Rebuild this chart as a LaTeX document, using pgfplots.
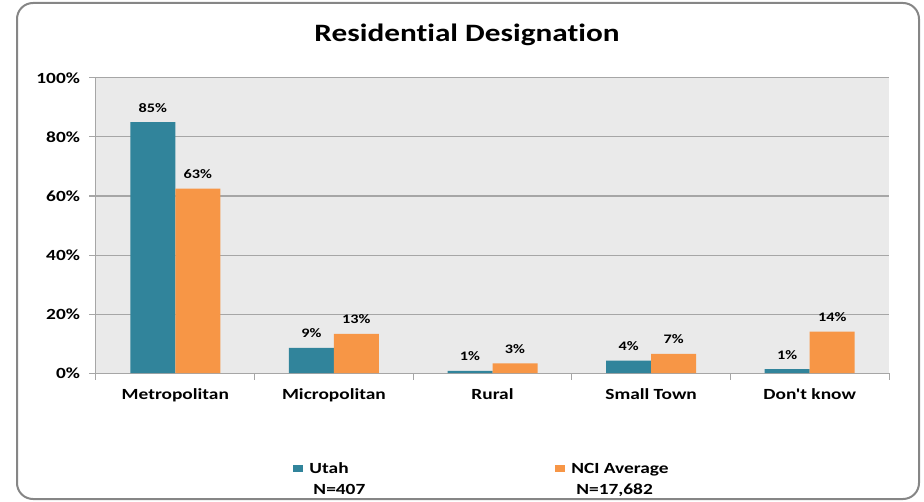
\documentclass[border=0pt]{standalone}
\usepackage{pgfplots}
\usepackage{pgfplotstable}
\pgfplotsset{compat=1.18}
\usepackage{fontspec}
\setmainfont{Carlito}[FakeStretch=1.25, Ligatures={CommonOff,TeXOff}]
\definecolor{utah}{HTML}{31849B}
\definecolor{nci}{HTML}{F79646}
\definecolor{plotbg}{HTML}{EAEAEA}
\definecolor{gridc}{HTML}{A6A6A6}
\definecolor{framec}{HTML}{868686}

\pgfplotstableread{
x y lab
0 85 85
1 8.5 9
2 0.7 1
3 4.2 4
4 1.3 1
}\utahdata
\pgfplotstableread{
x y lab
0 62.5 63
1 13.3 13
2 3.3 3
3 6.5 7
4 14.0 14
}\ncidata

\begin{document}
\begin{tikzpicture}
\useasboundingbox (0pt,0pt) rectangle (924pt,501pt);
\draw[framec, line width=2pt, rounded corners=16pt] (17pt,2pt) rectangle (919pt,498pt);
\node[font=\fontsize{25}{29}\selectfont\bfseries] at (467pt,466pt) {Residential Designation};
\begin{axis}[
  at={(96pt,128pt)}, anchor=south west,
  scale only axis, width=793pt, height=295pt,
  ymin=0, ymax=100, xmin=-0.5, xmax=4.5,
  axis background/.style={fill=plotbg},
  ybar=0pt, bar width=45pt,
  axis lines*=left,
  axis line style={gridc, line width=1pt},
  ytick={0,20,...,100},
  yticklabels={0\%,20\%,40\%,60\%,80\%,100\%},
  ymajorgrids,
  grid style={gridc, line width=1pt},
  tick align=outside,
  major tick length=6.5pt,
  tick style={gridc, line width=1pt},
  xtick={-0.5,0.5,...,4.5},
  xticklabels={},
  extra x ticks={0,1,2,3,4},
  extra x tick labels={Metropolitan,Micropolitan,Rural,Small Town,Don't know},
  extra x tick style={major tick length=0pt, grid=none, xticklabel style={yshift=-12pt}},
  yticklabel style={xshift=-6pt},
  tick label style={font=\fontsize{15.5}{18}\selectfont\bfseries, text=black},
  point meta=explicit symbolic,
  nodes near coords={\pgfplotspointmeta\%},
  nodes near coords style={font=\fontsize{13}{15}\selectfont\bfseries, text=black, anchor=base, yshift=10pt},
  legend columns=2,
  legend style={at={(0.245,-0.29)}, anchor=north west, draw=none, fill=none,
    font=\fontsize{15.5}{21}\selectfont\bfseries,
    cells={anchor=west, align=left},
    /tikz/every even column/.append style={column sep=188pt}},
  legend image code/.code={\path[draw=none, fill=none] (0pt,-14pt) rectangle (14pt,14pt);\fill[#1] (0pt,7pt) rectangle (10pt,14pt);},
]
\addplot[fill=utah, draw=none] table[x=x, y=y, meta=lab]{\utahdata};
\addlegendentry{Utah\\\hspace*{4pt}N=407}
\addplot[fill=nci, draw=none] table[x=x, y=y, meta=lab]{\ncidata};
\addlegendentry{NCI Average\\\hspace*{5pt}N=17,682}
\end{axis}
\end{tikzpicture}
\end{document}
